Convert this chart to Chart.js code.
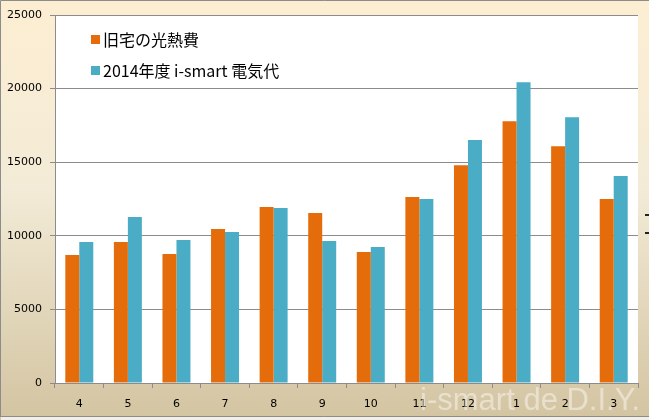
<!DOCTYPE html>
<html>
<head>
<meta charset="utf-8">
<script src="https://cdn.jsdelivr.net/npm/chart.js@4/dist/chart.umd.min.js"></script>
<style>
html,body{margin:0;padding:0;background:#fff;}
#wrap{width:649px;height:420px;position:relative;}
</style>
</head>
<body>
<div id="wrap"><canvas id="c" width="649" height="420"></canvas></div>
<script>
const months = ['4','5','6','7','8','9','10','11','12','1','2','3'];
const oldHouse = [8700, 9580, 8770, 10460, 11950, 11550, 8900, 12640, 14800, 17790, 16090, 12500];
const ismart2014 = [9580, 11280, 9720, 10260, 11890, 9650, 9240, 12500, 16500, 20430, 18060, 14060];
const seriesNames = ['旧宅の光熱費', '2014年度 i-smart 電気代'];
const yTicks = [0, 5000, 10000, 15000, 20000, 25000];
const watermark = 'i-smart de D.I.Y.';

const bgPlugin = {
  id: 'bg',
  beforeDraw(chart) {
    const {ctx, width, height, chartArea: a} = chart;
    ctx.save();
    const g = ctx.createLinearGradient(0, 0, 0, height);
    g.addColorStop(0, '#FDEED2');
    g.addColorStop(0.45, '#F3EBD7');
    g.addColorStop(1, '#D3C4A1');
    ctx.fillStyle = g;
    ctx.fillRect(0, 0, width, height);
    ctx.fillStyle = '#ffffff';
    ctx.fillRect(a.left, a.top, a.right - a.left, a.bottom - a.top);
    ctx.strokeStyle = '#8c8c8c';
    ctx.lineWidth = 1;
    ctx.beginPath();
    ctx.moveTo(0.5, 417); ctx.lineTo(0.5, 0.5); ctx.lineTo(649, 0.5);
    ctx.moveTo(0, 416.5); ctx.lineTo(649, 416.5);
    ctx.stroke();
    ctx.fillStyle = '#f2efe8';
    ctx.fillRect(1, 417, 648, 3);
    ctx.restore();
  },
  afterDraw(chart) {
    const {ctx} = chart;
    ctx.save();
    const ds = chart.data.datasets;
    const rows = [40, 71];
    ds.forEach((d, i) => {
      ctx.fillStyle = d.backgroundColor;
      ctx.fillRect(91, rows[i] - 5, 9, 9);
      ctx.fillStyle = '#000000';
      ctx.font = '16px "Noto Sans CJK JP", sans-serif';
      ctx.textBaseline = 'middle';
      ctx.textAlign = 'left';
      ctx.fillText(d.label, 103, rows[i]);
    });
    ctx.font = '31px "Liberation Sans", Arial, sans-serif';
    ctx.fillStyle = 'rgba(255,255,255,0.45)';
    ctx.textAlign = 'right';
    ctx.textBaseline = 'alphabetic';
    ctx.fillText(watermark, 640, 410);
    ctx.fillStyle = '#222';
    ctx.fillRect(645, 214, 4, 2);
    ctx.fillRect(645, 232, 4, 2);
    ctx.restore();
  }
};

new Chart(document.getElementById('c'), {
  type: 'bar',
  data: {
    labels: months,
    datasets: [
      {label: seriesNames[0], data: oldHouse, backgroundColor: '#E46C0A', borderWidth: 0},
      {label: seriesNames[1], data: ismart2014, backgroundColor: '#4BACC6', borderWidth: 0}
    ]
  },
  plugins: [bgPlugin],
  options: {
    responsive: false,
    animation: false,
    devicePixelRatio: 1,
    layout: {padding: {top: 15, right: 11, left: 0, bottom: 0}},
    datasets: {bar: {categoryPercentage: 0.576, barPercentage: 1.0}},
    plugins: {legend: {display: false}, tooltip: {enabled: false}},
    scales: {
      x: {
        grid: {display: true, drawOnChartArea: false, drawTicks: true, tickLength: 5, color: '#8c8c8c', offset: true},
        border: {display: true, color: '#8c8c8c', width: 1},
        ticks: {color: '#000', font: {family: '"DejaVu Sans", sans-serif', size: 11}, padding: 10, maxRotation: 0},
        afterFit(s) { s.height = 420 - 383; }
      },
      y: {
        min: 0, max: 25000,
        afterBuildTicks(s) { s.ticks = yTicks.map(v => ({value: v})); },
        grid: {color: '#8c8c8c', lineWidth: 1, tickLength: 5, drawTicks: true},
        border: {display: true, color: '#8c8c8c', width: 1},
        ticks: {color: '#000', font: {family: '"DejaVu Sans", sans-serif', size: 11}, padding: 8,
                callback: v => String(v)},
        afterFit(s) { s.width = 55; }
      }
    }
  }
});
</script>
</body>
</html>
